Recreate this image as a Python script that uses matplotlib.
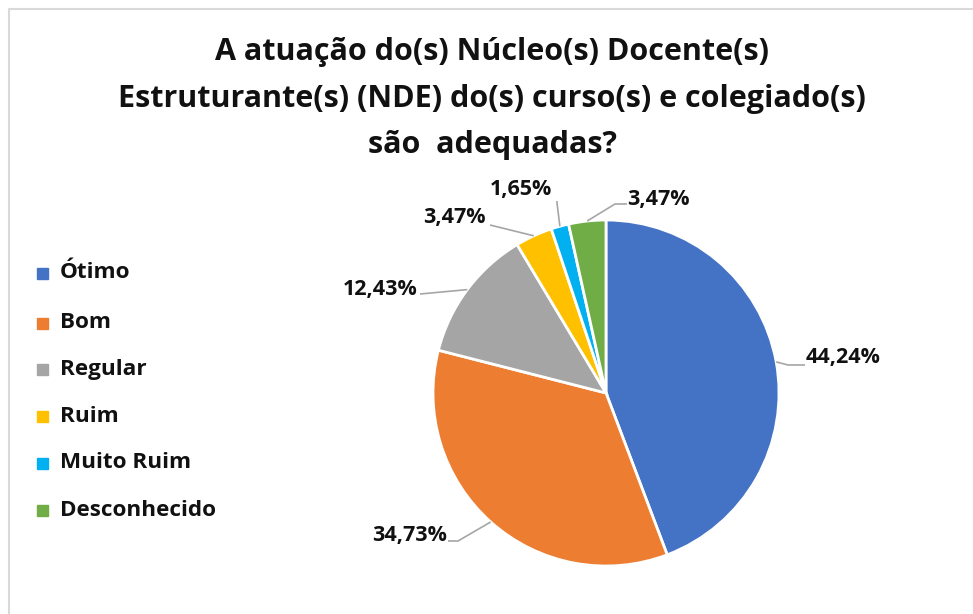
import numpy as np
import matplotlib
matplotlib.use("Agg")
import matplotlib.pyplot as plt
from matplotlib.patches import Rectangle
from matplotlib import font_manager

# data
categories = ["Ótimo", "Bom", "Regular", "Ruim", "Muito Ruim", "Desconhecido"]
values = [44.24, 34.73, 12.43, 3.47, 1.65, 3.47]
labels = ["44,24%", "34,73%", "12,43%", "3,47%", "1,65%", "3,47%"]
colors = ["#4472C4", "#ED7D31", "#A5A5A5", "#FFC000", "#00B0F0", "#70AD47"]

title_lines = ["A atuação do(s) Núcleo(s) Docente(s)",
               "Estruturante(s) (NDE) do(s) curso(s) e colegiado(s)",
               "são  adequadas?"]

names = {f.name for f in font_manager.fontManager.ttflist}
font = "Liberation Sans Narrow" if "Liberation Sans Narrow" in names else "Open Sans"
plt.rcParams['font.family'] = [font, 'DejaVu Sans']

W, H = 973, 614
fig = plt.figure(figsize=(W / 100, H / 100), dpi=100)
ax = fig.add_axes([0, 0, 1, 1])

# chart border (top and left visible)
ax.plot([9, 9, W], [0, H - 9, H - 9], color="#d9d9d9", lw=1.5)

# pie (pixel coords, y measured from bottom)
cx, cy, r = 606, H - 393, 173
wedges, _ = ax.pie(values, colors=colors, startangle=90, counterclock=False,
                   center=(cx, cy), radius=r, frame=True,
                   wedgeprops=dict(edgecolor="white", linewidth=2))
ax.set_xlim(0, W)
ax.set_ylim(0, H)
ax.set_aspect('equal')
ax.axis('off')

# label positions (pixel coords) and alignment
label_pos = [(806, 358, 'left'), (447, 535, 'right'), (418, 289, 'right'),
             (486, 217, 'right'), (521, 189, 'center'), (627, 199, 'left')]
# leader line bends and end points near labels (pixel coords)
leader_mid = [(788, 365), (458, 541), (420, 294),
              (490, 225), (557, 203), (615, 204)]
leader_end = [(805, 365), (448, 541), (420, 294),
              (490, 225), (557, 201), (627, 204)]

for w, lab, (lx, ly, ha), (mx, my), (ex, ey) in zip(wedges, labels, label_pos,
                                                   leader_mid, leader_end):
    ang = np.deg2rad((w.theta1 + w.theta2) / 2)
    sx, sy = cx + r * np.cos(ang), cy + r * np.sin(ang)
    ax.plot([sx, mx, ex], [sy, H - my, H - ey], color="#a6a6a6", lw=1.2,
            solid_capstyle='butt')
    ax.text(lx, H - ly, lab, ha=ha, va='center', fontsize=15.5,
            fontweight='bold', color="#111111")

# title
for line, y in zip(title_lines, [52, 99, 145]):
    ax.text(492, H - y, line, ha='center', va='center', fontsize=22,
            fontweight='bold', color="#111111")

# legend
leg_y = [273, 323, 369, 416, 463, 510]
for name, col, y in zip(categories, colors, leg_y):
    ax.add_patch(Rectangle((37, H - y - 6), 11, 11, color=col))
    ax.text(60, H - y, name, ha='left', va='center', fontsize=16.2,
            fontweight='bold', color="#111111")

fig.savefig("out.png", dpi=100)
